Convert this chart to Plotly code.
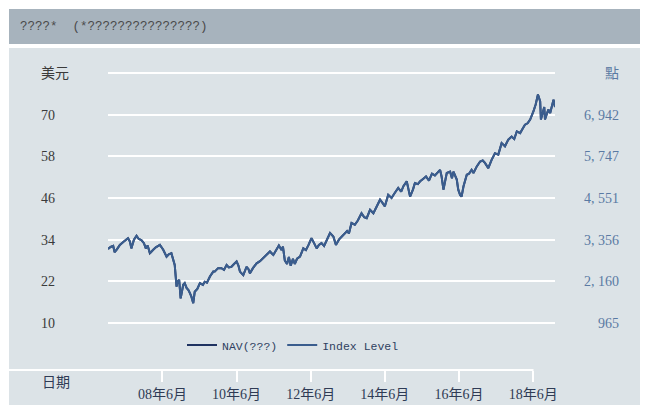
import plotly.graph_objects as go

# ---- data ----
years = [2007.03, 2007.10, 2007.17, 2007.21, 2007.27, 2007.35, 2007.45, 2007.57, 2007.62, 2007.66,
         2007.73, 2007.80, 2007.86, 2007.93, 2008.00, 2008.05, 2008.10, 2008.16, 2008.25, 2008.32,
         2008.43, 2008.52, 2008.61, 2008.67, 2008.74, 2008.78, 2008.83, 2008.88, 2008.91, 2008.95,
         2008.99, 2009.06, 2009.10, 2009.15, 2009.20, 2009.24, 2009.28, 2009.33, 2009.37, 2009.44,
         2009.51, 2009.59, 2009.64, 2009.70, 2009.78, 2009.87, 2009.91, 2010.00, 2010.09, 2010.16,
         2010.23, 2010.29, 2010.36, 2010.43, 2010.50, 2010.55, 2010.59, 2010.68, 2010.77, 2010.82,
         2010.86, 2010.94, 2011.04, 2011.13, 2011.22, 2011.30, 2011.40, 2011.49, 2011.56, 2011.64,
         2011.71, 2011.75, 2011.80, 2011.86, 2011.91, 2011.96, 2012.02, 2012.07, 2012.13, 2012.21,
         2012.30, 2012.37, 2012.44, 2012.52, 2012.59, 2012.66, 2012.72, 2012.79, 2012.86, 2012.94,
         2013.02, 2013.11, 2013.18, 2013.26, 2013.38, 2013.48, 2013.53, 2013.60, 2013.69, 2013.77,
         2013.87, 2013.94, 2014.01, 2014.10, 2014.19, 2014.27, 2014.37, 2014.44, 2014.50, 2014.59,
         2014.68, 2014.77, 2014.86, 2014.94, 2015.00, 2015.09, 2015.18, 2015.26, 2015.31, 2015.39,
         2015.45, 2015.53, 2015.61, 2015.69, 2015.77, 2015.85, 2015.94, 2015.99, 2016.03, 2016.08,
         2016.17, 2016.26, 2016.31, 2016.35, 2016.44, 2016.48, 2016.53, 2016.57, 2016.62, 2016.71,
         2016.77, 2016.84, 2016.89, 2016.98, 2017.07, 2017.14, 2017.20, 2017.29, 2017.38, 2017.47,
         2017.56, 2017.65, 2017.74, 2017.83, 2017.92, 2017.99, 2018.06, 2018.15, 2018.22, 2018.28,
         2018.35, 2018.42, 2018.51, 2018.57, 2018.63, 2018.66, 2018.69, 2018.71, 2018.76, 2018.80,
         2018.82, 2018.86, 2018.91, 2018.96, 2019.01, 2019.05, 2019.09]

nav_usd = [31.3, 31.9, 32.2, 30.4, 31.2, 32.5, 33.4, 34.4, 33.5, 31.5,
           34.0, 35.1, 34.2, 33.9, 33.0, 31.5, 32.3, 30.1, 31.1, 31.8,
           32.5, 31.1, 29.1, 29.8, 30.1, 28.8, 26.7, 20.5, 22.0, 22.4,
           17.1, 21.0, 21.5, 20.1, 19.5, 18.6, 17.6, 15.7, 19.0, 19.8,
           21.5, 21.0, 21.9, 21.6, 23.4, 24.8, 24.8, 25.8, 25.8, 25.3,
           26.7, 26.0, 26.2, 27.0, 27.7, 26.5, 24.8, 23.8, 26.2, 25.5,
           24.3, 25.8, 27.2, 27.8, 28.7, 29.6, 30.6, 29.6, 31.0, 32.3,
           31.0, 32.0, 28.0, 27.0, 29.0, 26.5, 28.5, 27.0, 28.5, 29.1,
           31.5, 31.0, 32.5, 34.4, 33.0, 31.5, 32.5, 33.0, 32.2, 34.0,
           35.9, 34.9, 32.5, 34.0, 35.4, 36.5, 35.8, 38.8, 38.3, 39.5,
           41.6, 40.5, 40.2, 42.6, 41.6, 43.5, 45.5, 44.5, 43.6, 46.9,
           46.0, 47.5, 48.9, 47.8, 49.4, 50.8, 46.4, 48.5, 50.3, 50.0,
           50.8, 51.5, 52.2, 51.0, 53.0, 52.5, 53.5, 54.1, 52.2, 48.4,
           53.2, 53.6, 51.7, 53.6, 51.3, 48.4, 46.9, 46.4, 49.3, 52.7,
           53.0, 54.1, 53.2, 55.1, 56.5, 56.8, 56.1, 54.6, 57.0, 58.9,
           58.5, 61.8, 60.9, 62.8, 63.7, 63.0, 65.2, 64.7, 66.0, 67.1,
           67.5, 68.6, 71.0, 73.0, 75.8, 74.5, 73.8, 68.6, 70.5, 72.2,
           68.6, 70.0, 71.5, 70.5, 72.9, 74.3, 72.2]

index_level = [3087, 3147, 3177, 2997, 3077, 3206, 3296, 3396, 3306, 3107,
               3356, 3465, 3376, 3346, 3256, 3107, 3186, 2967, 3067, 3137,
               3206, 3067, 2868, 2937, 2967, 2838, 2629, 2011, 2160, 2200,
               1672, 2061, 2111, 1971, 1911, 1822, 1722, 1533, 1862, 1941,
               2111, 2061, 2150, 2121, 2300, 2439, 2439, 2539, 2539, 2489,
               2629, 2559, 2579, 2658, 2728, 2609, 2439, 2340, 2579, 2509,
               2390, 2539, 2678, 2738, 2828, 2917, 3017, 2917, 3057, 3186,
               3057, 3157, 2758, 2658, 2858, 2609, 2808, 2658, 2808, 2868,
               3107, 3057, 3206, 3396, 3256, 3107, 3206, 3256, 3177, 3356,
               3545, 3445, 3206, 3356, 3495, 3605, 3535, 3834, 3784, 3904,
               4113, 4003, 3973, 4212, 4113, 4302, 4501, 4402, 4312, 4641,
               4551, 4701, 4840, 4731, 4890, 5029, 4591, 4800, 4980, 4950,
               5029, 5099, 5169, 5049, 5249, 5199, 5298, 5358, 5169, 4790,
               5268, 5308, 5119, 5308, 5079, 4790, 4641, 4591, 4880, 5219,
               5249, 5358, 5268, 5458, 5597, 5627, 5557, 5408, 5647, 5836,
               5796, 6125, 6035, 6225, 6314, 6245, 6464, 6414, 6544, 6653,
               6693, 6803, 7042, 7241, 7520, 7390, 7321, 6803, 6992, 7161,
               6803, 6942, 7091, 6992, 7231, 7370, 7161]

left_tickvals = [10, 22, 34, 46, 58, 70, 82]
left_ticktext = ["10", "22", "34", "46", "58", "70", "美元"]
right_tickvals = [965, 2160, 3356, 4551, 5747, 6942, 8137]
right_ticktext = ["965", "2, 160", "3, 356", "4, 551", "5, 747", "6, 942", "點"]
x_tickvals = [2008.5, 2010.5, 2012.5, 2014.5, 2016.5, 2018.5]
x_ticktext = ["08年6月", "10年6月", "12年6月", "14年6月", "16年6月", "18年6月"]

title_text = "????*  (*???????????????)"
series_names = ["NAV(???)", "Index Level"]

# ---- styling ----
# the page body has an 8px margin; figure is sized to fill the rest of the window
OFF = 8
W, H = 640, 397


def fx(p):
    return (p - OFF) / W


def fy(p):
    return 1 - (p - OFF) / H


FONT = "Liberation Serif, Noto Sans CJK TC, serif"
MONO = "Liberation Mono, Noto Sans CJK TC, monospace"
PANEL = "#dce3e7"
BAR = "#a7b3bd"
NAV_COLOR = "#1f3361"
IDX_COLOR = "#3a5d8e"

fig = go.Figure()
fig.add_trace(go.Scatter(x=years, y=nav_usd, name=series_names[0], mode="lines",
                         line=dict(color=NAV_COLOR, width=2), yaxis="y"))
fig.add_trace(go.Scatter(x=years, y=index_level, name=series_names[1], mode="lines",
                         line=dict(color=IDX_COLOR, width=2), yaxis="y2"))

fig.update_layout(
    width=W, height=H,
    margin=dict(l=0, r=0, t=0, b=0, autoexpand=False),
    paper_bgcolor="white",
    plot_bgcolor="rgba(0,0,0,0)",
    font=dict(family=FONT, size=14, color="#3a3a3a"),
    showlegend=True,
    legend=dict(orientation="h", x=fx(293), y=fy(345), xanchor="center", yanchor="middle",
                bgcolor="rgba(0,0,0,0)", font=dict(family=MONO, size=11.5, color="#2f3f5f"),
                itemwidth=30, tracegroupgap=0),
    xaxis=dict(domain=[fx(108), fx(555)], range=[2007.03, 2019.09],
               showgrid=False, zeroline=False, showline=False,
               ticks="outside", ticklen=11, tickcolor="white", tickwidth=2,
               tickvals=x_tickvals, ticktext=x_ticktext,
               tickfont=dict(size=14, color="#2f3b55"), anchor="y"),
    yaxis=dict(domain=[fy(370), fy(71)], range=[-3.536, 82.576],
               anchor="free", position=fx(37), side="left",
               ticklabelposition="inside", ticklabeloverflow="allow",
               tickvals=left_tickvals, ticktext=left_ticktext,
               showgrid=True, gridcolor="white", gridwidth=2,
               zeroline=False, showline=False, ticks="",
               tickfont=dict(size=14, color="#3a3a3a")),
    yaxis2=dict(domain=[fy(370), fy(71)], range=[-383.4, 8194.8],
                overlaying="y", anchor="free", position=fx(622), side="right",
                ticklabelposition="inside", ticklabeloverflow="allow",
                tickvals=right_tickvals, ticktext=right_ticktext,
                showgrid=False, zeroline=False, showline=False, ticks="",
                tickfont=dict(size=14, color="#5a7aa3")),
)

# background title bar and panel
fig.add_shape(type="rect", xref="paper", yref="paper", x0=fx(9), x1=1, y0=fy(44), y1=fy(9),
              fillcolor=BAR, line_width=0, layer="below")
fig.add_shape(type="rect", xref="paper", yref="paper", x0=fx(9), x1=1, y0=0, y1=fy(48),
              fillcolor=PANEL, line_width=0, layer="below")
# date axis base line
fig.add_shape(type="line", xref="paper", yref="paper", x0=fx(9), x1=fx(533.5), y0=fy(370), y1=fy(370),
              line=dict(color="white", width=2), layer="below")

fig.add_annotation(text=title_text, xref="paper", yref="paper", x=fx(18), y=fy(27),
                   xanchor="left", yanchor="middle", showarrow=False,
                   font=dict(family=MONO, size=12.5, color="#4a4a4a"))
fig.add_annotation(text="日期", xref="paper", yref="paper", x=fx(40), y=fy(382),
                   xanchor="left", yanchor="middle", showarrow=False,
                   font=dict(size=14, color="#2f3b55"))

fig.write_html("out.html")
